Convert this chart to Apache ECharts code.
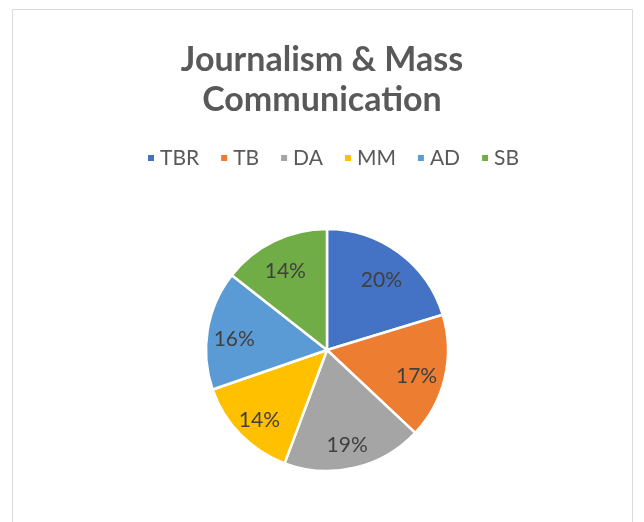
<!DOCTYPE html>
<html><head><meta charset="utf-8">
<script src="https://cdn.jsdelivr.net/npm/echarts@6/dist/echarts.min.js"></script>
<style>html,body{margin:0;padding:0;background:#fff}#c{width:644px;height:522px}</style>
</head><body><div id="c"></div>
<script>
const titleText = "Journalism & Mass\nCommunication";
const categories = ["TBR", "TB", "DA", "MM", "AD", "SB"];
const values = [20.3, 16.7, 18.7, 14.0, 15.9, 14.4];
const colors = ["#4472C4", "#ED7D31", "#A5A5A5", "#FFC000", "#5B9BD5", "#70AD47"];

const sliceData = categories.map((c, i) => ({ name: c, value: values[i], itemStyle: { color: colors[i] } }));
const labelData = categories.map((c, i) => ({ name: c, value: values[i] }));
const FONT = 'Lato';
const CENTER = [327, 350];
const chart = echarts.init(document.getElementById('c'));
chart.setOption({
  animation: false,
  graphic: [{ type: 'rect', shape: { x: 12.5, y: 9.5, width: 620, height: 520 }, style: { fill: 'none', stroke: '#d9d9d9', lineWidth: 1 } }],
  title: {
    text: titleText, left: 'center', top: 35,
    textStyle: { fontFamily: FONT, fontSize: 34, fontWeight: 'bold', color: '#595959', lineHeight: 40 }
  },
  legend: {
    data: categories, top: 141, left: 141, icon: 'rect', itemWidth: 8, itemHeight: 8, itemGap: 20,
    textStyle: { fontFamily: FONT, fontSize: 21, color: '#595959', lineHeight: 24 }
  },
  series: [{
    type: 'pie', center: CENTER, radius: [0, 121], startAngle: 90, clockwise: true,
    percentPrecision: 0, data: sliceData,
    itemStyle: { borderColor: '#fff', borderWidth: 2.5 },
    label: { show: false }, labelLine: { show: false }, emphasis: { disabled: true }, silent: true
  }, {
    type: 'pie', center: CENTER, radius: [59, 121], startAngle: 90, clockwise: true,
    percentPrecision: 0, data: labelData, silent: true, emphasis: { disabled: true },
    itemStyle: { color: 'rgba(0,0,0,0)', borderWidth: 0 },
    label: { show: true, position: 'inside', formatter: '{d}%', offset: [-1, 5], fontFamily: FONT, fontSize: 21, color: '#404040' },
    labelLine: { show: false }
  }]
});
</script></body></html>
